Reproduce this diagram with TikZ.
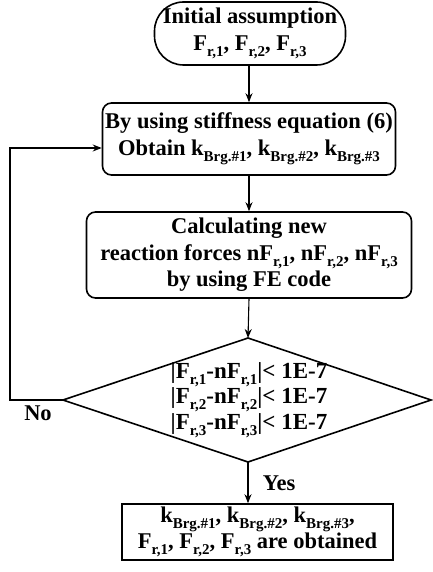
\documentclass[tikz,border=0pt]{standalone}
\usepackage{fontspec}
\setmainfont{Liberation Serif}
\usetikzlibrary{arrows.meta}
\newcommand{\ssub}[1]{\raisebox{-0.6ex}{\fontsize{15}{15}\selectfont #1}}

\begin{document}
\begin{tikzpicture}[x=1pt,y=-1pt,
    every node/.style={font=\fontsize{22.5}{26.5}\selectfont\bfseries,align=center,inner sep=0pt},
    box/.style={draw,line width=1.6pt,rounded corners=9pt},
    arr/.style={-{Stealth[length=9pt,width=7pt]},line width=1.1pt}]
  \useasboundingbox (0,0) rectangle (433,572);
  \node[draw,line width=1.6pt,rounded corners=29pt,minimum width=191pt,minimum height=63pt] (init) at (250,33.5)
    {Initial assumption\\[1pt] F\ssub{r,1}, F\ssub{r,2}, F\ssub{r,3}};
  \node[box,minimum width=293pt,minimum height=72pt] (obtain) at (249,139)
    {By using stiffness equation (6)\\ Obtain k\ssub{Brg.\#1}, k\ssub{Brg.\#2}, k\ssub{Brg.\#3}};
  \node[box,minimum width=325pt,minimum height=86pt] (calc) at (249,255)
    {Calculating new\\ reaction forces nF\ssub{r,1}, nF\ssub{r,2}, nF\ssub{r,3}\\ by using FE code};
  % convergence check
  \node[font=\fontsize{23}{24}\selectfont\bfseries] (check) at (249,400)
    {|F\ssub{r,1}-nF\ssub{r,1}|< 1E-7\\ |F\ssub{r,2}-nF\ssub{r,2}|< 1E-7\\ |F\ssub{r,3}-nF\ssub{r,3}|< 1E-7};
  \coordinate (dtop) at (248,338);
  \coordinate (dright) at (431,400);
  \coordinate (dbot) at (248,462);
  \coordinate (dleft) at (63,400);
  \draw[line width=1.6pt] (dtop) -- (dright) -- (dbot) -- (dleft) -- cycle;
  \node[draw,line width=1.6pt,minimum width=271pt,minimum height=56pt] (result) at (257.5,532)
    {k\ssub{Brg.\#1}, k\ssub{Brg.\#2}, k\ssub{Brg.\#3},\\ F\ssub{r,1}, F\ssub{r,2}, F\ssub{r,3} are obtained};
  \node (no) at (38,413) {No};
  \node (yes) at (279,483) {Yes};
  \draw[arr] (init.south -| obtain) -- (obtain);
  \draw[arr] (obtain) -- (calc);
  \draw[arr] (calc.south) -- (dtop);
  \draw[arr] (dbot) -- (dbot |- result.north);
  \draw[arr] (dleft) -- ++(-53,0) |- ([yshift=-9pt]obtain.west);
\end{tikzpicture}
\end{document}
